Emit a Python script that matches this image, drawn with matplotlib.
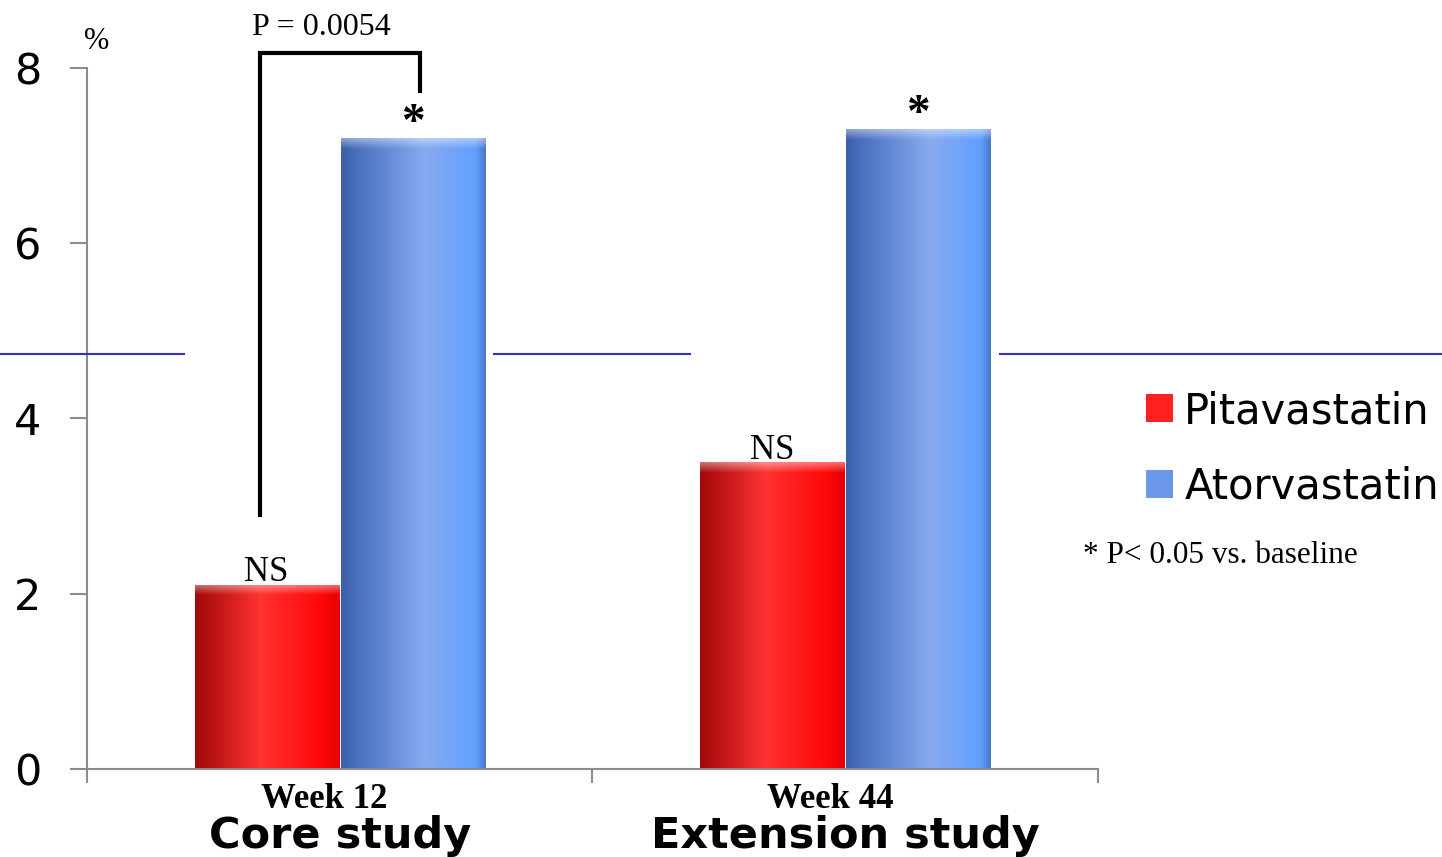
import numpy as np
import matplotlib
matplotlib.use("Agg")
import matplotlib.pyplot as plt
from matplotlib.colors import LinearSegmentedColormap
from matplotlib.lines import Line2D

# change from baseline (%), per study phase
weeks = ["Week 12", "Week 44"]
phases = ["Core study", "Extension study"]
series = ["Pitavastatin", "Atorvastatin"]
pitavastatin = [2.1, 3.5]
atorvastatin = [7.2, 7.3]
pita_marks = ["NS", "NS"]
ator_marks = ["*", "*"]
p_between = "P = 0.0054"
footnote = "* P< 0.05 vs. baseline"

serif = "Liberation Serif"
sans = "DejaVu Sans"

fig = plt.figure(figsize=(14.42, 8.57), dpi=100)
ax = fig.add_axes([0.0603, 0.1027, 0.7011, 0.8180])

x = np.arange(len(weeks))
w = 0.285
red_cmap = LinearSegmentedColormap.from_list(
    "red", [(0, "#a00808"), (0.45, "#ff3232"), (0.85, "#ff0a0a"), (1, "#e80000")])
blue_cmap = LinearSegmentedColormap.from_list(
    "blue", [(0, "#3b5fa8"), (0.12, "#4b72c0"), (0.58, "#88aaf0"),
             (0.93, "#62a0ff"), (1, "#4a78c8")])

red_bars = ax.bar(x - w / 2 - 0.002, pitavastatin, w, color="#ff2020",
                  label=series[0], zorder=2)
blue_bars = ax.bar(x + w / 2 + 0.002, atorvastatin, w, color="#6c98ea",
                   label=series[1], zorder=2)

ax.set_xlim(-0.5, 1.5)
ax.set_ylim(0, 8)

# horizontal shading across each bar plus a light bevel along the top
grad = np.linspace(0, 1, 256).reshape(1, -1)
shine = np.zeros((64, 1, 4))
shine[..., :3] = 1.0
shine[:, 0, 3] = np.linspace(0.45, 0.0, 64)
for bars, cmap in [(red_bars, red_cmap), (blue_bars, blue_cmap)]:
    for rect in bars:
        x0, h, bw = rect.get_x(), rect.get_height(), rect.get_width()
        im = ax.imshow(grad, cmap=cmap, extent=[x0, x0 + bw, 0, h],
                       aspect="auto", zorder=2.1)
        im.set_clip_path(rect)
        top = ax.imshow(shine, extent=[x0, x0 + bw, h - 0.12, h],
                        aspect="auto", zorder=2.2)
        top.set_clip_path(rect)
ax.set_xlim(-0.5, 1.5)
ax.set_ylim(0, 8)

for s in ["top", "right"]:
    ax.spines[s].set_visible(False)
for s in ["left", "bottom"]:
    ax.spines[s].set_color("#8c8c8c")
    ax.spines[s].set_linewidth(1.5)

ax.set_yticks([0, 2, 4, 6, 8])
ax.tick_params(axis="y", length=12, width=1.5, color="#8c8c8c", pad=21,
               labelsize=31)
for lab in ax.get_yticklabels():
    lab.set_fontfamily(sans)
ax.set_xticks([-0.5, 0.5, 1.5])
ax.set_xticklabels([])
ax.tick_params(axis="x", length=10, width=1.5, color="#8c8c8c")

ax.text(-0.48, 8.3, "%", family=serif, fontsize=22, ha="center", va="center",
        clip_on=False)

# category labels under the axis
trans = ax.get_xaxis_transform()
for xi, wk, ph in zip(x, weeks, phases):
    ax.text(xi - 0.03, -0.0556, wk, transform=trans, family=serif,
            fontweight="bold", fontsize=25, ha="center", va="baseline")
    ax.text(xi, -0.1127, ph, transform=trans, family=sans,
            fontweight="bold", fontsize=31, ha="center", va="baseline")

for rect, m in zip(red_bars, pita_marks):
    ax.text(rect.get_x() + rect.get_width() / 2, rect.get_height() + 0.04, m,
            family=serif, fontsize=25, ha="center", va="baseline")
for rect, m in zip(blue_bars, ator_marks):
    ax.text(rect.get_x() + rect.get_width() / 2, rect.get_height() + 0.04, m,
            family=serif, fontsize=34, fontweight="bold", ha="center",
            va="baseline")

# significance bracket between the week-12 bars
xl, xr = -0.158, 0.1587
ax.plot([xl, xl, xr, xr], [2.9, 8.17, 8.17, 7.74], color="black", lw=3,
        solid_joinstyle="miter", clip_on=False, zorder=3)
ax.text(-0.036, 8.38, p_between, family=serif, fontsize=23, ha="center",
        va="baseline", clip_on=False)

# blue rule running across the slide
for x0, x1 in [(0, 184), (494, 690), (1000, 1442)]:
    fig.add_artist(Line2D([x0 / 1442, x1 / 1442], [0.587, 0.587],
                          color="#3030c8", lw=1.5, zorder=5))

leg = ax.legend(loc="upper left", bbox_to_anchor=(1146 / 1442, 467 / 857),
                bbox_transform=fig.transFigure, frameon=False, fontsize=30,
                handlelength=0.65, handleheight=0.65, handletextpad=0.27,
                labelspacing=0.8, borderpad=0, borderaxespad=0)
for t in leg.get_texts():
    t.set_fontfamily(sans)

fig.text(1083 / 1442, (857 - 563) / 857, footnote, family=serif, fontsize=22.5,
         ha="left", va="baseline")

fig.savefig("out.png", dpi=100)
